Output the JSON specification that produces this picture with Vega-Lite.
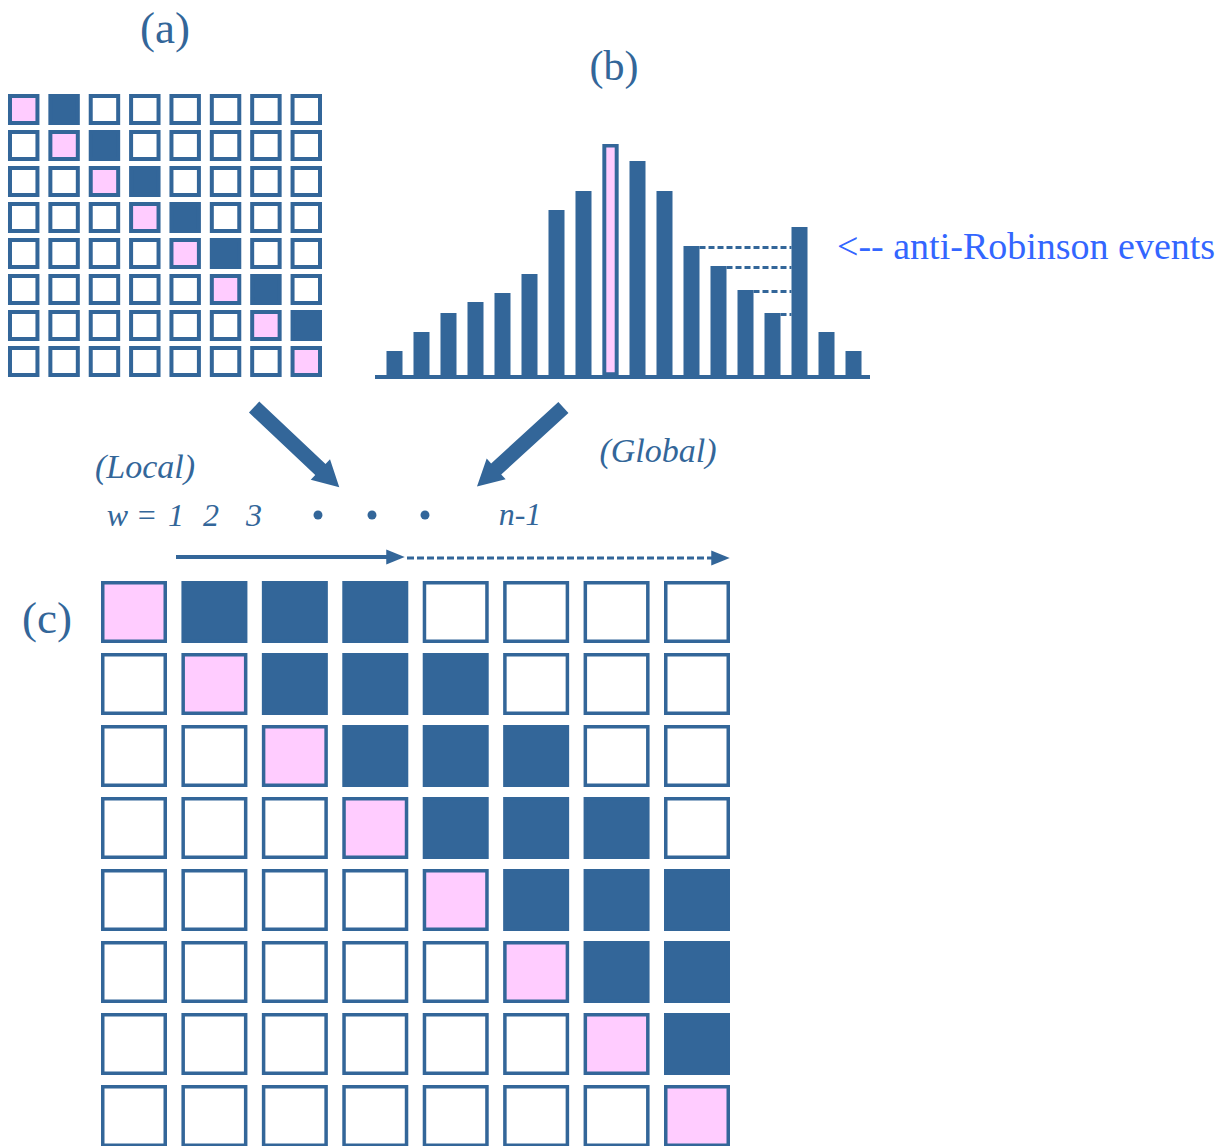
{
  "$schema": "https://vega.github.io/schema/vega-lite/v6.json",
  "width": 1232,
  "height": 1146,
  "autosize": "none",
  "padding": 0,
  "background": "white",
  "config": {"view": {"stroke": null}},
  "datasets": {
    "matA": [
      {"r":0,"c":0,"s":"d"},{"r":0,"c":1,"s":"b"},{"r":0,"c":2,"s":"e"},{"r":0,"c":3,"s":"e"},{"r":0,"c":4,"s":"e"},{"r":0,"c":5,"s":"e"},{"r":0,"c":6,"s":"e"},{"r":0,"c":7,"s":"e"},
      {"r":1,"c":0,"s":"e"},{"r":1,"c":1,"s":"d"},{"r":1,"c":2,"s":"b"},{"r":1,"c":3,"s":"e"},{"r":1,"c":4,"s":"e"},{"r":1,"c":5,"s":"e"},{"r":1,"c":6,"s":"e"},{"r":1,"c":7,"s":"e"},
      {"r":2,"c":0,"s":"e"},{"r":2,"c":1,"s":"e"},{"r":2,"c":2,"s":"d"},{"r":2,"c":3,"s":"b"},{"r":2,"c":4,"s":"e"},{"r":2,"c":5,"s":"e"},{"r":2,"c":6,"s":"e"},{"r":2,"c":7,"s":"e"},
      {"r":3,"c":0,"s":"e"},{"r":3,"c":1,"s":"e"},{"r":3,"c":2,"s":"e"},{"r":3,"c":3,"s":"d"},{"r":3,"c":4,"s":"b"},{"r":3,"c":5,"s":"e"},{"r":3,"c":6,"s":"e"},{"r":3,"c":7,"s":"e"},
      {"r":4,"c":0,"s":"e"},{"r":4,"c":1,"s":"e"},{"r":4,"c":2,"s":"e"},{"r":4,"c":3,"s":"e"},{"r":4,"c":4,"s":"d"},{"r":4,"c":5,"s":"b"},{"r":4,"c":6,"s":"e"},{"r":4,"c":7,"s":"e"},
      {"r":5,"c":0,"s":"e"},{"r":5,"c":1,"s":"e"},{"r":5,"c":2,"s":"e"},{"r":5,"c":3,"s":"e"},{"r":5,"c":4,"s":"e"},{"r":5,"c":5,"s":"d"},{"r":5,"c":6,"s":"b"},{"r":5,"c":7,"s":"e"},
      {"r":6,"c":0,"s":"e"},{"r":6,"c":1,"s":"e"},{"r":6,"c":2,"s":"e"},{"r":6,"c":3,"s":"e"},{"r":6,"c":4,"s":"e"},{"r":6,"c":5,"s":"e"},{"r":6,"c":6,"s":"d"},{"r":6,"c":7,"s":"b"},
      {"r":7,"c":0,"s":"e"},{"r":7,"c":1,"s":"e"},{"r":7,"c":2,"s":"e"},{"r":7,"c":3,"s":"e"},{"r":7,"c":4,"s":"e"},{"r":7,"c":5,"s":"e"},{"r":7,"c":6,"s":"e"},{"r":7,"c":7,"s":"d"}
    ],
    "matC": [
      {"r":0,"c":0,"s":"d"},{"r":0,"c":1,"s":"b"},{"r":0,"c":2,"s":"b"},{"r":0,"c":3,"s":"b"},{"r":0,"c":4,"s":"e"},{"r":0,"c":5,"s":"e"},{"r":0,"c":6,"s":"e"},{"r":0,"c":7,"s":"e"},
      {"r":1,"c":0,"s":"e"},{"r":1,"c":1,"s":"d"},{"r":1,"c":2,"s":"b"},{"r":1,"c":3,"s":"b"},{"r":1,"c":4,"s":"b"},{"r":1,"c":5,"s":"e"},{"r":1,"c":6,"s":"e"},{"r":1,"c":7,"s":"e"},
      {"r":2,"c":0,"s":"e"},{"r":2,"c":1,"s":"e"},{"r":2,"c":2,"s":"d"},{"r":2,"c":3,"s":"b"},{"r":2,"c":4,"s":"b"},{"r":2,"c":5,"s":"b"},{"r":2,"c":6,"s":"e"},{"r":2,"c":7,"s":"e"},
      {"r":3,"c":0,"s":"e"},{"r":3,"c":1,"s":"e"},{"r":3,"c":2,"s":"e"},{"r":3,"c":3,"s":"d"},{"r":3,"c":4,"s":"b"},{"r":3,"c":5,"s":"b"},{"r":3,"c":6,"s":"b"},{"r":3,"c":7,"s":"e"},
      {"r":4,"c":0,"s":"e"},{"r":4,"c":1,"s":"e"},{"r":4,"c":2,"s":"e"},{"r":4,"c":3,"s":"e"},{"r":4,"c":4,"s":"d"},{"r":4,"c":5,"s":"b"},{"r":4,"c":6,"s":"b"},{"r":4,"c":7,"s":"b"},
      {"r":5,"c":0,"s":"e"},{"r":5,"c":1,"s":"e"},{"r":5,"c":2,"s":"e"},{"r":5,"c":3,"s":"e"},{"r":5,"c":4,"s":"e"},{"r":5,"c":5,"s":"d"},{"r":5,"c":6,"s":"b"},{"r":5,"c":7,"s":"b"},
      {"r":6,"c":0,"s":"e"},{"r":6,"c":1,"s":"e"},{"r":6,"c":2,"s":"e"},{"r":6,"c":3,"s":"e"},{"r":6,"c":4,"s":"e"},{"r":6,"c":5,"s":"e"},{"r":6,"c":6,"s":"d"},{"r":6,"c":7,"s":"b"},
      {"r":7,"c":0,"s":"e"},{"r":7,"c":1,"s":"e"},{"r":7,"c":2,"s":"e"},{"r":7,"c":3,"s":"e"},{"r":7,"c":4,"s":"e"},{"r":7,"c":5,"s":"e"},{"r":7,"c":6,"s":"e"},{"r":7,"c":7,"s":"d"}
    ],
    "bars": [
      {"i":1,"v":26,"hl":false},{"i":2,"v":45,"hl":false},{"i":3,"v":64,"hl":false},{"i":4,"v":75,"hl":false},
      {"i":5,"v":84,"hl":false},{"i":6,"v":103,"hl":false},{"i":7,"v":167,"hl":false},{"i":8,"v":186,"hl":false},
      {"i":9,"v":233,"hl":true},{"i":10,"v":216,"hl":false},{"i":11,"v":186,"hl":false},{"i":12,"v":131,"hl":false},
      {"i":13,"v":111,"hl":false},{"i":14,"v":87,"hl":false},{"i":15,"v":64,"hl":false},{"i":16,"v":150,"hl":false},
      {"i":17,"v":45,"hl":false},{"i":18,"v":26,"hl":false}
    ],
    "events": [
      {"from":12,"to":16,"v":131},{"from":13,"to":16,"v":111},{"from":14,"to":16,"v":87},{"from":15,"to":16,"v":64}
    ]
  },
  "resolve": {"scale": {"x": "independent", "y": "independent", "fill": "independent"}},
  "layer": [
    {
      "data": {"name": "matA"},
      "mark": {"type": "rect", "stroke": "#336699", "strokeWidth": 4},
      "encoding": {
        "x": {"field": "c", "type": "ordinal", "axis": null, "scale": {"range": [10, 320], "paddingInner": 0.32, "paddingOuter": 0}},
        "y": {"field": "r", "type": "ordinal", "axis": null, "scale": {"range": [96, 375], "paddingInner": 0.25, "paddingOuter": 0}},
        "fill": {"field": "s", "type": "nominal", "legend": null, "scale": {"domain": ["e", "d", "b"], "range": ["#ffffff", "#ffccff", "#336699"]}}
      }
    },
    {
      "data": {"name": "matC"},
      "mark": {"type": "rect", "stroke": "#336699", "strokeWidth": 3.5},
      "encoding": {
        "x": {"field": "c", "type": "ordinal", "axis": null, "scale": {"range": [102.75, 728.25], "paddingInner": 0.223, "paddingOuter": 0}},
        "y": {"field": "r", "type": "ordinal", "axis": null, "scale": {"range": [582.75, 1145.25], "paddingInner": 0.1875, "paddingOuter": 0}},
        "fill": {"field": "s", "type": "nominal", "legend": null, "scale": {"domain": ["e", "d", "b"], "range": ["#ffffff", "#ffccff", "#336699"]}}
      }
    },
    {
      "layer": [
        {
          "data": {"name": "bars"},
          "mark": {"type": "bar", "fill": "#336699", "stroke": null},
          "encoding": {
            "x": {"field": "i", "type": "ordinal", "axis": null, "scale": {"domain": [1,2,3,4,5,6,7,8,9,10,11,12,13,14,15,16,17,18], "range": [376.5, 871.5], "paddingInner": 0.407, "paddingOuter": 0.37}},
            "y": {"field": "v", "type": "quantitative", "axis": null, "scale": {"domain": [0, 250], "range": [377, 127], "nice": false}}
          }
        },
        {
          "data": {"name": "bars"},
          "transform": [{"filter": "datum.hl"}],
          "mark": {"type": "bar", "fill": "#ffccff", "stroke": "#336699", "strokeWidth": 3.6, "width": {"band": 0.75}, "yOffset": 1.8},
          "encoding": {
            "x": {"field": "i", "type": "ordinal", "axis": null},
            "y": {"field": "v", "type": "quantitative", "axis": null},
            "y2": {"datum": 3}
          }
        },
        {
          "data": {"name": "events"},
          "mark": {"type": "rule", "stroke": "#336699", "strokeWidth": 3, "strokeDash": [6, 3], "yOffset": 1.5},
          "encoding": {
            "x": {"field": "from", "type": "ordinal", "bandPosition": 1, "axis": null},
            "x2": {"field": "to", "bandPosition": 0},
            "y": {"field": "v", "type": "quantitative", "axis": null}
          }
        }
      ]
    },
    {
      "encoding": {
        "x": {"field": "x", "type": "quantitative", "axis": null, "scale": {"domain": [0, 1232], "range": [0, 1232], "nice": false, "zero": false}},
        "y": {"field": "y", "type": "quantitative", "axis": null, "scale": {"domain": [0, 1146], "range": [0, 1146], "nice": false, "zero": false}}
      },
      "layer": [
        {
          "data": {"values": [{"t": "(a)", "x": 165, "y": 43}, {"t": "(c)", "x": 47, "y": 633}]},
          "mark": {"type": "text", "font": "Liberation Serif", "fontSize": 45, "color": "#336699", "align": "center", "baseline": "alphabetic"},
          "encoding": {"text": {"field": "t"}}
        },
        {
          "data": {"values": [{"t": "(b)", "x": 614, "y": 80}]},
          "mark": {"type": "text", "font": "Liberation Serif", "fontSize": 42, "color": "#336699", "align": "center", "baseline": "alphabetic"},
          "encoding": {"text": {"field": "t"}}
        },
        {
          "data": {"values": [{"t": "<-- anti-Robinson events", "x": 837, "y": 259}]},
          "mark": {"type": "text", "font": "Liberation Serif", "fontSize": 38, "color": "#3366ff", "align": "left", "baseline": "alphabetic"},
          "encoding": {"text": {"field": "t"}}
        },
        {
          "data": {"values": [{"t": "(Local)", "x": 145, "y": 478}, {"t": "(Global)", "x": 658, "y": 462}]},
          "mark": {"type": "text", "font": "Liberation Serif", "fontStyle": "italic", "fontSize": 34, "color": "#336699", "align": "center", "baseline": "alphabetic"},
          "encoding": {"text": {"field": "t"}}
        },
        {
          "data": {"values": [{"t": "w", "x": 117.5, "y": 526}, {"t": "1", "x": 176, "y": 526}, {"t": "2", "x": 211, "y": 526}, {"t": "3", "x": 254, "y": 526}, {"t": "n-1", "x": 520, "y": 525}]},
          "mark": {"type": "text", "font": "Liberation Serif", "fontStyle": "italic", "fontSize": 32, "color": "#336699", "align": "center", "baseline": "alphabetic"},
          "encoding": {"text": {"field": "t"}}
        },
        {
          "data": {"values": [{"t": "=", "x": 146.7, "y": 526}]},
          "mark": {"type": "text", "font": "Liberation Serif", "fontSize": 32, "color": "#336699", "align": "center", "baseline": "alphabetic"},
          "encoding": {"text": {"field": "t"}}
        },
        {
          "data": {"values": [{"x": 318, "y": 515}, {"x": 372, "y": 515}, {"x": 425, "y": 515}]},
          "mark": {"type": "point", "shape": "circle", "filled": true, "fill": "#336699", "opacity": 1, "size": 80, "strokeWidth": 0},
          "encoding": {}
        },
        {
          "data": {"values": [{"x": 375, "x2": 870, "y": 377}, {"x": 176, "x2": 390, "y": 557}]},
          "mark": {"type": "rule", "stroke": "#336699", "strokeWidth": 4},
          "encoding": {"x2": {"field": "x2"}}
        },
        {
          "data": {"values": [{"x": 407, "x2": 712, "y": 558}]},
          "mark": {"type": "rule", "stroke": "#336699", "strokeWidth": 3, "strokeDash": [7, 3]},
          "encoding": {"x2": {"field": "x2"}}
        },
        {
          "data": {"values": [{"x": 395.5, "y": 557}, {"x": 720.5, "y": 558}]},
          "mark": {"type": "point", "shape": "M-1,-0.8L1,0L-1,0.8Z", "filled": true, "fill": "#336699", "opacity": 1, "size": 340, "strokeWidth": 0},
          "encoding": {}
        },
        {
          "data": {"values": [{"x": 296.7, "y": 447.2}]},
          "mark": {"type": "point", "shape": "M-0.128,1L0.128,1L0.128,-0.556L0.24,-0.556L0,-1L-0.24,-0.556L-0.128,-0.556Z", "filled": true, "fill": "#336699", "opacity": 1, "size": 13700, "strokeWidth": 0, "angle": 133.3},
          "encoding": {}
        },
        {
          "data": {"values": [{"x": 520.2, "y": 447}]},
          "mark": {"type": "point", "shape": "M-0.128,1L0.128,1L0.128,-0.556L0.24,-0.556L0,-1L-0.24,-0.556L-0.128,-0.556Z", "filled": true, "fill": "#336699", "opacity": 1, "size": 13700, "strokeWidth": 0, "angle": 227.6},
          "encoding": {}
        }
      ]
    }
  ]
}
